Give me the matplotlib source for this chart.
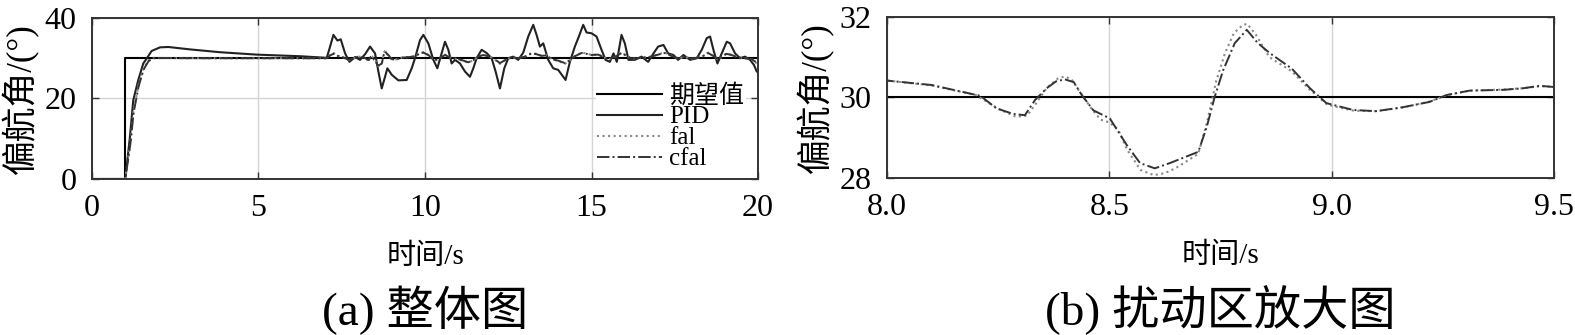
import numpy as np
import matplotlib
matplotlib.use("Agg")
import matplotlib.pyplot as plt
from matplotlib.ticker import FormatStrFormatter

plt.rcParams['font.family'] = ['Liberation Serif', 'Noto Sans CJK SC']
plt.rcParams['axes.unicode_minus'] = False

# desired yaw angle
ref_t = [0, 1.0, 1.0, 20]
ref_v = [0, 0, 30, 30]

# PID response
pid_t = [0, 1.0, 1.14, 1.24, 1.39, 1.54, 1.64, 1.79, 2.04, 2.29, 2.94, 3.84, 4.94, 6.25, 7.05,
         7.15, 7.25, 7.37, 7.47, 7.6, 7.73, 7.9, 8.05, 8.2, 8.35, 8.5, 8.6, 8.7, 8.8, 8.87, 9.0,
         9.2, 9.45, 9.6, 9.7, 9.85, 9.95, 10.1, 10.25, 10.37, 10.47, 10.6, 10.7, 10.8, 10.9, 11.05,
         11.2, 11.35, 11.45, 11.55, 11.7, 11.85, 12.0, 12.12, 12.25, 12.38, 12.5, 12.65, 12.8, 12.95,
         13.1, 13.25, 13.35, 13.45, 13.55, 13.7, 13.85, 14.0, 14.15, 14.22, 14.35, 14.5, 14.62, 14.75,
         14.85, 15.0, 15.15, 15.3, 15.42, 15.55, 15.66, 15.76, 15.9, 16.0, 16.11, 16.3, 16.5, 16.7,
         16.86, 17.0, 17.16, 17.3, 17.46, 17.6, 17.76, 17.96, 18.16, 18.31, 18.46, 18.56, 18.66, 18.78,
         18.91, 19.06, 19.16, 19.31, 19.46, 19.61, 19.76, 19.88, 19.96, 20.0]
pid_v = [0, 0, 10.5, 19.6, 24.6, 28.7, 29.9, 31.8, 32.7, 32.8, 32.2, 31.5, 30.9, 30.5, 30.1,
         32.9, 35.8, 34.4, 34.7, 31.2, 29.1, 30.3, 29.6, 31.0, 32.9, 31.2, 26.7, 22.5, 25.4, 27.5, 25.9,
         24.5, 24.6, 27.5, 30.0, 34.5, 35.8, 33.7, 29.6, 27.5, 30.4, 34.1, 32.1, 28.7, 29.6, 28.7,
         26.7, 25.4, 27.5, 30.0, 32.1, 31.3, 30.0, 26.7, 22.5, 27.5, 30.0, 30.4, 29.6, 31.4,
         35.4, 38.3, 35.8, 32.9, 33.7, 29.6, 27.5, 27.1, 25.4, 24.6, 29.1, 32.9, 35.4, 38.3,
         36.4, 36.2, 35.4, 32.1, 29.6, 29.1, 31.2, 29.1, 35.8, 33.7, 29.6, 29.6, 30.4, 29.1,
         31.2, 32.9, 33.3, 31.2, 30.8, 29.6, 30.8, 29.6, 30.0, 32.1, 35.0, 35.4, 32.1, 28.7,
         31.2, 34.1, 33.7, 31.2, 30.0, 30.4, 29.6, 28.3, 26.7, 26.5]

# fal based ADRC
fal_t = [0, 1.0, 1.15, 1.25, 1.4, 1.55, 1.7, 1.85, 2.2, 3.0, 7.05, 7.15, 7.25, 7.4, 7.55, 7.7, 7.85,
         8.0, 8.1, 8.2, 8.25, 8.29, 8.315, 8.335, 8.36, 8.385, 8.4, 8.415, 8.43, 8.46, 8.48, 8.5,
         8.52, 8.54, 8.57, 8.6, 8.625, 8.65, 8.7, 8.72, 8.74, 8.76, 8.78, 8.8, 8.81, 8.83, 8.86,
         8.91, 8.95, 8.99, 9.05, 9.1, 9.16, 9.22, 9.26, 9.31, 9.39, 9.43, 9.47, 9.5,
         9.7, 9.85, 9.95, 10.1, 10.25, 10.4, 10.5, 10.6, 10.75, 10.9, 11.05, 11.3, 11.45, 11.6,
         11.75, 11.9, 12.05, 12.25, 12.4, 12.6, 12.8, 13.0, 13.2, 13.35, 13.5, 13.65, 13.8, 14.0,
         14.2, 14.35, 14.5, 14.7, 14.85, 15.0, 15.2, 15.35, 15.5, 15.7, 15.9, 16.05, 16.2, 16.5,
         16.8, 17.0, 17.2, 17.4, 17.6, 17.8, 18.0, 18.3, 18.5, 18.65, 18.8, 19.05, 19.2, 19.4,
         19.6, 19.8, 19.95, 20.0]
fal_v = [0, 0, 9.0, 17.0, 23.5, 27.5, 29.5, 30.1, 30.05, 30.0, 30.0, 30.8, 31.3, 30.6, 30.2, 29.5, 29.9,
         30.42, 30.30, 30.06, 29.72, 29.52, 29.55, 29.85, 30.25, 30.48, 30.52, 30.45, 30.2, 29.72, 29.45, 29.38,
         29.2, 28.7, 28.2, 28.07, 28.12, 28.25, 28.6, 29.4, 30.4, 31.1, 31.6, 31.8, 31.83, 31.55, 31.0,
         30.65, 30.2, 29.82, 29.67, 29.66, 29.75, 29.9, 30.06, 30.17, 30.2, 30.23, 30.28, 30.26,
         30.5, 31.3, 31.5, 30.8, 29.6, 29.5, 30.3, 30.9, 30.2, 29.9, 29.6, 28.9, 29.5, 30.4,
         30.9, 30.5, 30.0, 28.6, 29.5, 30.2, 30.0, 30.4, 31.3, 31.1, 30.6, 30.8, 29.8, 29.3,
         28.6, 29.5, 30.6, 31.4, 31.2, 30.8, 31.0, 30.3, 29.7, 30.3, 31.5, 30.6, 29.9, 30.1,
         30.4, 31.0, 31.4, 30.6, 29.9, 30.3, 29.9, 30.3, 31.4, 30.6, 29.6, 31.2, 30.9, 30.2,
         30.0, 29.8, 28.8, 28.6]

# cfal based ADRC
cfal_t = [0, 1.0, 1.15, 1.25, 1.4, 1.55, 1.7, 1.85, 2.2, 3.0, 7.05, 7.15, 7.25, 7.4, 7.55, 7.7, 7.85,
          8.0, 8.1, 8.21, 8.246, 8.284, 8.31, 8.333, 8.359, 8.38, 8.4, 8.42, 8.438, 8.464, 8.501,
          8.539, 8.569, 8.602, 8.636, 8.7, 8.719, 8.737, 8.756, 8.782, 8.809, 8.834, 8.861, 8.91,
          8.951, 8.988, 9.048, 9.1, 9.161, 9.22, 9.258, 9.31, 9.386, 9.431, 9.468, 9.5,
          9.7, 9.85, 9.95, 10.1, 10.25, 10.4, 10.5, 10.6, 10.75, 10.9, 11.05, 11.3, 11.45, 11.6,
          11.75, 11.9, 12.05, 12.25, 12.4, 12.6, 12.8, 13.0, 13.2, 13.35, 13.5, 13.65, 13.8, 14.0,
          14.2, 14.35, 14.5, 14.7, 14.85, 15.0, 15.2, 15.35, 15.5, 15.7, 15.9, 16.05, 16.2, 16.5,
          16.8, 17.0, 17.2, 17.4, 17.6, 17.8, 18.0, 18.3, 18.5, 18.65, 18.8, 19.05, 19.2, 19.4,
          19.6, 19.8, 19.95, 20.0]
cfal_v = [0, 0, 8.5, 16.5, 23.0, 27.2, 29.3, 30.0, 30.05, 30.0, 30.0, 30.7, 31.1, 30.5, 30.2, 29.6, 29.9,
          30.42, 30.31, 30.04, 29.73, 29.59, 29.56, 29.94, 30.23, 30.4, 30.45, 30.38, 30.06, 29.68, 29.48,
          28.82, 28.37, 28.24, 28.37, 28.65, 29.27, 30.02, 30.68, 31.35, 31.68, 31.35, 31.10, 30.72,
          30.23, 29.86, 29.69, 29.66, 29.76, 29.89, 30.06, 30.17, 30.19, 30.23, 30.29, 30.26,
          30.5, 31.2, 31.4, 30.8, 29.7, 29.6, 30.3, 30.8, 30.2, 29.9, 29.7, 29.0, 29.5, 30.4,
          30.8, 30.5, 30.0, 28.8, 29.5, 30.2, 30.0, 30.4, 31.2, 31.0, 30.6, 30.7, 29.8, 29.4,
          28.8, 29.5, 30.5, 31.3, 31.1, 30.8, 30.9, 30.3, 29.8, 30.3, 31.3, 30.6, 29.9, 30.1,
          30.4, 30.9, 31.3, 30.6, 29.9, 30.3, 29.9, 30.3, 31.3, 30.6, 29.7, 31.1, 30.8, 30.2,
          30.0, 29.8, 29.0, 28.8]

labels = ['期望值', 'PID', 'fal', 'cfal']

fig = plt.figure(figsize=(15.75, 3.35), dpi=100)
ax1 = fig.add_axes([0.0584, 0.4657, 0.4229, 0.4806])
ax2 = fig.add_axes([0.5632, 0.4687, 0.4235, 0.4806])


def style(ax):
    ax.grid(True, color='#d4d4d4', linewidth=1.0)
    ax.set_axisbelow(True)
    ax.tick_params(direction='in', top=True, right=True, length=5, width=1,
                   labelsize=23, pad=11, color='#333333')
    for s in ax.spines.values():
        s.set_color('#333333')
        s.set_linewidth(1.4)


ax1.plot(ref_t, ref_v, color='black', lw=1.5, label=labels[0])
ax1.plot(pid_t, pid_v, color='#222222', lw=1.5, label=labels[1])
ax1.plot(fal_t, fal_v, color='#888888', lw=1.5, ls=':', label=labels[2])
ax1.plot(cfal_t, cfal_v, color='#333333', lw=1.4, ls='-.', label=labels[3])
ax1.set_xlim(0, 20)
ax1.set_ylim(0, 40)
ax1.set_xticks([0, 5, 10, 15, 20])
ax1.set_yticks([0, 20, 40])
style(ax1)
ax1.set_xlabel('时间/s', fontsize=21, labelpad=15)
ax1.set_ylabel('偏航角/(°)', fontsize=25, labelpad=4)
leg = ax1.legend(loc='lower right', bbox_to_anchor=(0.985, 0.03), fontsize=18,
                 frameon=True, facecolor='white', edgecolor='none', framealpha=1,
                 handlelength=2.6, handletextpad=0.3, labelspacing=-0.06,
                 borderpad=0.05, borderaxespad=0.1)

ax2.plot(ref_t, ref_v, color='black', lw=1.5)
ax2.plot(fal_t, fal_v, color='#888888', lw=1.5, ls=':')
ax2.plot(cfal_t, cfal_v, color='#333333', lw=1.4, ls='-.')
ax2.set_xlim(8.0, 9.5)
ax2.set_ylim(28, 32)
ax2.set_xticks([8.0, 8.5, 9.0, 9.5])
ax2.set_yticks([28, 30, 32])
ax2.xaxis.set_major_formatter(FormatStrFormatter('%.1f'))
style(ax2)
ax2.set_xlabel('时间/s', fontsize=21, labelpad=15)
ax2.set_ylabel('偏航角/(°)', fontsize=25, labelpad=4)

fig.text(0.2698, 0.075, '(a) 整体图', fontsize=34, ha='center', va='center')
fig.text(0.775, 0.075, '(b) 扰动区放大图', fontsize=34, ha='center', va='center')

fig.savefig('out.png', dpi=100)
